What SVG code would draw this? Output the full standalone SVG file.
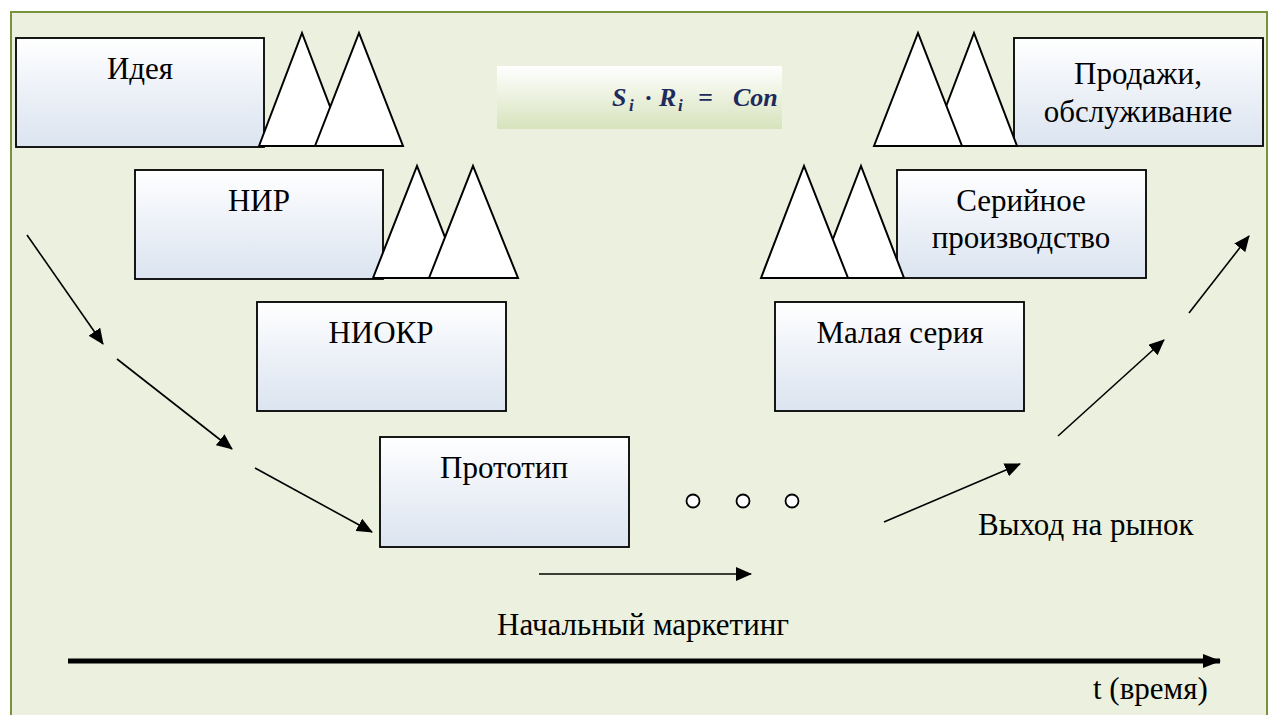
<svg xmlns="http://www.w3.org/2000/svg" width="1274" height="715" viewBox="0 0 1274 715">
  <defs>
    <linearGradient id="boxFill" x1="0" y1="0" x2="0" y2="1">
      <stop offset="0" stop-color="#ffffff"/>
      <stop offset="0.45" stop-color="#eef2f8"/>
      <stop offset="1" stop-color="#dbe4f0"/>
    </linearGradient>
    <linearGradient id="formulaFill" x1="0" y1="0" x2="0" y2="1">
      <stop offset="0" stop-color="#ffffff"/>
      <stop offset="1" stop-color="#d7e3bc"/>
    </linearGradient>
    <clipPath id="formulaClip">
      <rect x="497" y="66" width="285" height="63"/>
    </clipPath>
    <marker id="arrowHead" viewBox="0 0 16 14" refX="15" refY="7" markerWidth="16" markerHeight="14" markerUnits="userSpaceOnUse" orient="auto">
      <path d="M0,0 L16,7 L0,14 Z" fill="#000"/>
    </marker>
    <marker id="axisHead" viewBox="0 0 18 14" refX="17" refY="7" markerWidth="18" markerHeight="14" markerUnits="userSpaceOnUse" orient="auto">
      <path d="M0,0 L18,7 L0,14 Z" fill="#000"/>
    </marker>
    <style>
      .box { fill: url(#boxFill); stroke: #000; stroke-width: 1.8; }
      .tri { fill: #fff; stroke: #000; stroke-width: 2; stroke-linejoin: miter; }
      .lbl { font-family: 'Liberation Serif', 'Times New Roman', serif; font-size: 31px; fill: #000; text-anchor: middle; }
      .free { font-family: 'Liberation Serif', 'Times New Roman', serif; font-size: 31px; fill: #000; }
      .math { font-family: 'Liberation Serif', 'Times New Roman', serif; font-style: italic; font-weight: bold; font-size: 26px; fill: #1f2a5c; }
      .sub { font-size: 17px; }
      .conn { stroke: #000; stroke-width: 1.6; fill: none; marker-end: url(#arrowHead); }
      .dot { fill: #fff; stroke: #000; stroke-width: 1.8; }
    </style>
  </defs>

  <!-- page and framed panel -->
  <rect x="0" y="0" width="1274" height="715" fill="#ffffff"/>
  <rect x="11" y="12" width="1256" height="720" fill="#ebf1de" stroke="#77933c" stroke-width="2"/>

  <!-- formula strip: S_i · R_i = Con..., cut off at the strip edge -->
  <g id="formula">
    <rect x="497" y="66" width="285" height="63" fill="url(#formulaFill)"/>
    <g clip-path="url(#formulaClip)">
      <text class="math" x="612" y="106">S<tspan class="sub" x="629" y="111">i</tspan><tspan x="645" y="106">·</tspan><tspan x="659" y="106">R</tspan><tspan class="sub" x="678" y="111">i</tspan><tspan x="698" y="106">=</tspan><tspan x="733" y="106">Con</tspan></text>
    </g>
  </g>

  <!-- stage boxes -->
  <g id="idea">
    <rect class="box" x="16" y="38" width="248" height="109"/>
    <text class="lbl" x="140" y="79">Идея</text>
  </g>
  <g id="nir">
    <rect class="box" x="135" y="170" width="248" height="109"/>
    <text class="lbl" x="259" y="211">НИР</text>
  </g>
  <g id="niokr">
    <rect class="box" x="257" y="302" width="249" height="109"/>
    <text class="lbl" x="381" y="343">НИОКР</text>
  </g>
  <g id="prototype">
    <rect class="box" x="380" y="437" width="249" height="110"/>
    <text class="lbl" x="504" y="478">Прототип</text>
  </g>
  <g id="small-series">
    <rect class="box" x="775" y="302" width="249" height="109"/>
    <text class="lbl" x="900" y="343">Малая серия</text>
  </g>
  <g id="serial">
    <rect class="box" x="897" y="170" width="249" height="108"/>
    <text class="lbl" x="1021" y="211">Серийное</text>
    <text class="lbl" x="1021" y="248">производство</text>
  </g>
  <g id="sales">
    <rect class="box" x="1014" y="38" width="249" height="108"/>
    <text class="lbl" x="1138" y="84">Продажи,</text>
    <text class="lbl" x="1138" y="122">обслуживание</text>
  </g>

  <!-- paired triangles -->
  <g id="tri-idea">
    <polygon class="tri" points="259,146 302,33 345,146"/>
    <polygon class="tri" points="315,146 359,33 403,146"/>
  </g>
  <g id="tri-nir">
    <polygon class="tri" points="373,278 417,166 461,278"/>
    <polygon class="tri" points="429,278 473,166 518,278"/>
  </g>
  <g id="tri-serial">
    <polygon class="tri" points="818,278 861,166 904,278"/>
    <polygon class="tri" points="761,278 804,166 848,278"/>
  </g>
  <g id="tri-sales">
    <polygon class="tri" points="931,146 974,33 1017,146"/>
    <polygon class="tri" points="874,146 918,33 962,146"/>
  </g>

  <!-- ellipsis dots -->
  <g id="dots">
    <circle class="dot" cx="693" cy="501" r="6.5"/>
    <circle class="dot" cx="743" cy="501" r="6.5"/>
    <circle class="dot" cx="792" cy="501" r="6.5"/>
  </g>

  <!-- connectors -->
  <g id="connectors">
    <line class="conn" x1="27" y1="235" x2="103" y2="344"/>
    <line class="conn" x1="117" y1="359" x2="232" y2="449"/>
    <line class="conn" x1="255" y1="468" x2="372" y2="532"/>
    <line class="conn" x1="539" y1="574" x2="751" y2="574"/>
    <line class="conn" x1="884" y1="522" x2="1020" y2="464"/>
    <line class="conn" x1="1058" y1="436" x2="1164" y2="340"/>
    <line class="conn" x1="1189" y1="313" x2="1249" y2="236"/>
    <line x1="68" y1="661" x2="1220" y2="661" stroke="#000" stroke-width="5" marker-end="url(#axisHead)"/>
  </g>

  <!-- free labels -->
  <g id="labels">
    <text class="free" x="978" y="535">Выход на рынок</text>
    <text class="free" x="497" y="635">Начальный маркетинг</text>
    <text class="free" x="1093" y="699">t (время)</text>
  </g>
</svg>
